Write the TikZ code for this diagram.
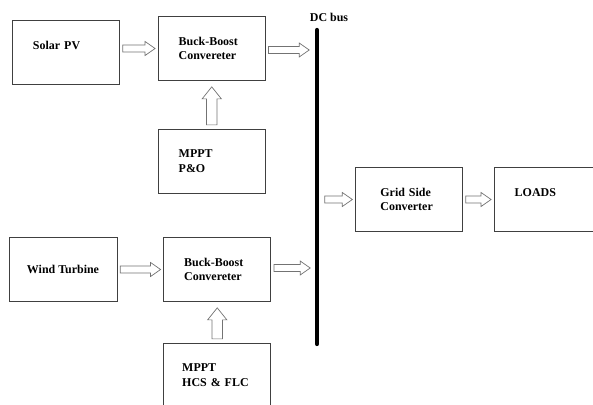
\documentclass[tikz,border=0pt]{standalone}
\usepackage{fontspec}
\setmainfont{Liberation Serif}
\usepackage{tikz}
\usetikzlibrary{positioning,calc}

\tikzset{
  blk/.style={draw=black!75, line width=0.5pt, minimum width=2.675cm, minimum height=1.6cm,
    align=center, font=\fontsize{8.5}{10.5}\selectfont\bfseries},
  leftblk/.style={blk, text width=1.65cm, align=left, inner xsep=0.5cm},
  oneline/.style={text depth=0.35cm},
  busline/.style={line width=3pt, line cap=round},
  hollowh/.style={draw=black!55, fill=white, line width=0.5pt,
    to path={let \p1=(\tikztostart), \p2=(\tikztotarget) in
      (\x1+0.07cm,\y2+0.0875cm) -- (\x2-0.32cm,\y2+0.0875cm) -- (\x2-0.32cm,\y2+0.175cm)
      -- (\x2-0.07cm,\y2) -- (\x2-0.32cm,\y2-0.175cm) -- (\x2-0.32cm,\y2-0.0875cm)
      -- (\x1+0.07cm,\y2-0.0875cm) -- cycle}},
  hollowv/.style={draw=black!55, fill=white, line width=0.5pt,
    to path={let \p1=(\tikztostart), \p2=(\tikztotarget) in
      (\x2-0.13cm,\y1+0.1cm) -- (\x2-0.13cm,\y2-0.45cm) -- (\x2-0.24cm,\y2-0.45cm)
      -- (\x2,\y2-0.15cm) -- (\x2+0.24cm,\y2-0.45cm) -- (\x2+0.13cm,\y2-0.45cm)
      -- (\x2+0.13cm,\y1+0.1cm) -- cycle}}
}

\begin{document}
\begin{tikzpicture}[x=0.025cm, y=-0.025cm]
\useasboundingbox (0,0) rectangle (593,405);
\clip (0,0) rectangle (593,405);

% solar branch
\node[leftblk, oneline, inner xsep=0.4cm] (pv) at (66,52) {Solar PV};
\node[leftblk, right=0.95cm of pv, yshift=0.0875cm] (bb1) {Buck-Boost\\Convereter};
\node[leftblk, below=1.2cm of bb1] (mppt1) {MPPT\\P\&O};

% wind branch
\node[blk, minimum width=2.7cm] (wt) at (63,269.5) {Wind Turbine};
\node[leftblk, right=1.15cm of wt] (bb2) {Buck-Boost\\Convereter};
\node[leftblk, text width=1.75cm, inner xsep=0.46cm, below=1.025cm of bb2] (mppt2) {MPPT\\HCS \& FLC};

% dc bus
\coordinate (bustop) at (317,30);
\coordinate (busbot) at (317,344);
\coordinate (busin1) at (312,50);
\coordinate (busin2) at (313,268);
\coordinate (busout) at (322,200);
\draw[busline] (bustop) -- (busbot);
\node[font=\fontsize{8.5}{10}\selectfont\bfseries, inner sep=1pt] (buslbl) at (329,17) {DC bus};

% load side
\node[leftblk, inner xsep=0.62cm, text width=1.43cm] (gsc) at (409,199.5) {Grid Side\\Converter};
\node[leftblk, oneline, right=0.775cm of gsc] (loads) {LOADS};

% power flow
\draw[hollowh] (pv.east) to (bb1.west);
\draw[hollowh] (bb1.east) to (busin1);
\draw[hollowv] (mppt1.north) to (bb1.south);
\draw[hollowh] (wt.east) to (bb2.west);
\draw[hollowh] (bb2.east) to (busin2);
\draw[hollowv] (mppt2.north) to (bb2.south);
\draw[hollowh] (busout) to (gsc.west);
\draw[hollowh] (gsc.east) to (loads.west);
\end{tikzpicture}
\end{document}
